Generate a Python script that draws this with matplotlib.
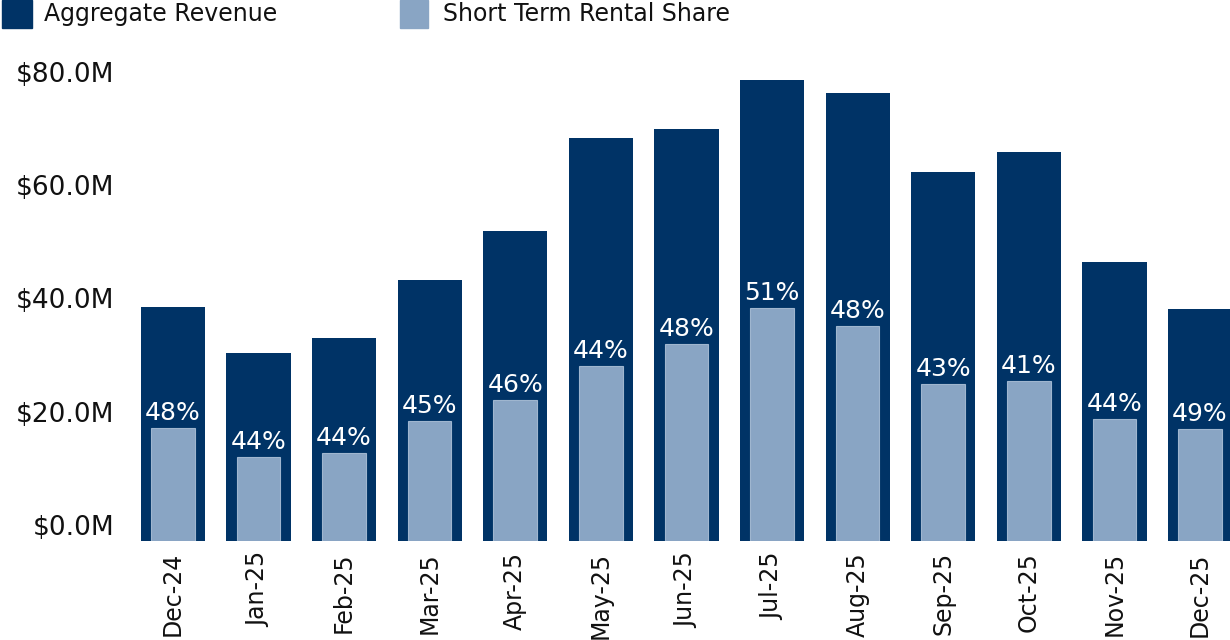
import matplotlib
matplotlib.use("Agg")
import matplotlib.pyplot as plt
from matplotlib.patches import Rectangle

months = ["Dec-24", "Jan-25", "Feb-25", "Mar-25", "Apr-25", "May-25", "Jun-25",
          "Jul-25", "Aug-25", "Sep-25", "Oct-25", "Nov-25", "Dec-25"]
aggregate_revenue = [41.3, 33.2, 35.9, 46.1, 54.8, 71.2, 72.8, 81.4, 79.2, 65.2, 68.7, 49.3, 41.0]
str_revenue = [20.0, 14.8, 15.5, 21.2, 24.9, 30.9, 34.8, 41.2, 38.0, 27.7, 28.3, 21.6, 19.8]
str_share_labels = ["48%", "44%", "44%", "45%", "46%", "44%", "48%", "51%", "48%", "43%", "41%", "44%", "49%"]
y_ticks = [0, 20, 40, 60, 80]

DARK = "#003366"
LIGHT = "#89A5C4"

plt.rcParams['font.family'] = ['DejaVu Sans']

fig = plt.figure(figsize=(12.3, 6.4), dpi=100)
ax = fig.add_axes([130 / 1230, 99 / 640, 1100 / 1230, 470 / 640])

x = list(range(len(months)))
ax.bar(x, aggregate_revenue, width=0.75, color=DARK, zorder=2)
ax.bar(x, str_revenue, width=0.51, color=LIGHT, edgecolor="#9fb6cf", linewidth=0.8, zorder=3)

for xi, v, lab in zip(x, str_revenue, str_share_labels):
    ax.annotate(lab, (xi, v), xytext=(0, 2), textcoords="offset points",
                ha="center", va="bottom", color="white", fontsize=18, zorder=4)

ax.set_xlim(-0.5, 12.35)
ax.set_ylim(0, 83)
ax.set_yticks(y_ticks)
ax.set_yticklabels([f"${v:.1f}M" for v in y_ticks], fontsize=19, color="#111111")
for lbl in ax.get_yticklabels():
    lbl.set_verticalalignment("bottom")
ax.set_xticks(x)
ax.set_xticklabels(months, rotation=90, fontsize=17, color="#111111")
ax.tick_params(axis="both", length=0)
ax.tick_params(axis="y", pad=11)
ax.tick_params(axis="x", pad=8)
for s in ax.spines.values():
    s.set_visible(False)

# legend (manual)
fig.patches.append(Rectangle((2 / 1230, 1 - 28 / 640), 30 / 1230, 28 / 640,
                             transform=fig.transFigure, color=DARK))
fig.text(44 / 1230, 1 - 14 / 640, "Aggregate Revenue", fontsize=17, va="center", ha="left", color="#111111")
fig.patches.append(Rectangle((400 / 1230, 1 - 28 / 640), 28 / 1230, 28 / 640,
                             transform=fig.transFigure, color=LIGHT))
fig.text(443 / 1230, 1 - 14 / 640, "Short Term Rental Share", fontsize=17, va="center", ha="left", color="#111111")

fig.savefig("out.png", dpi=100)
